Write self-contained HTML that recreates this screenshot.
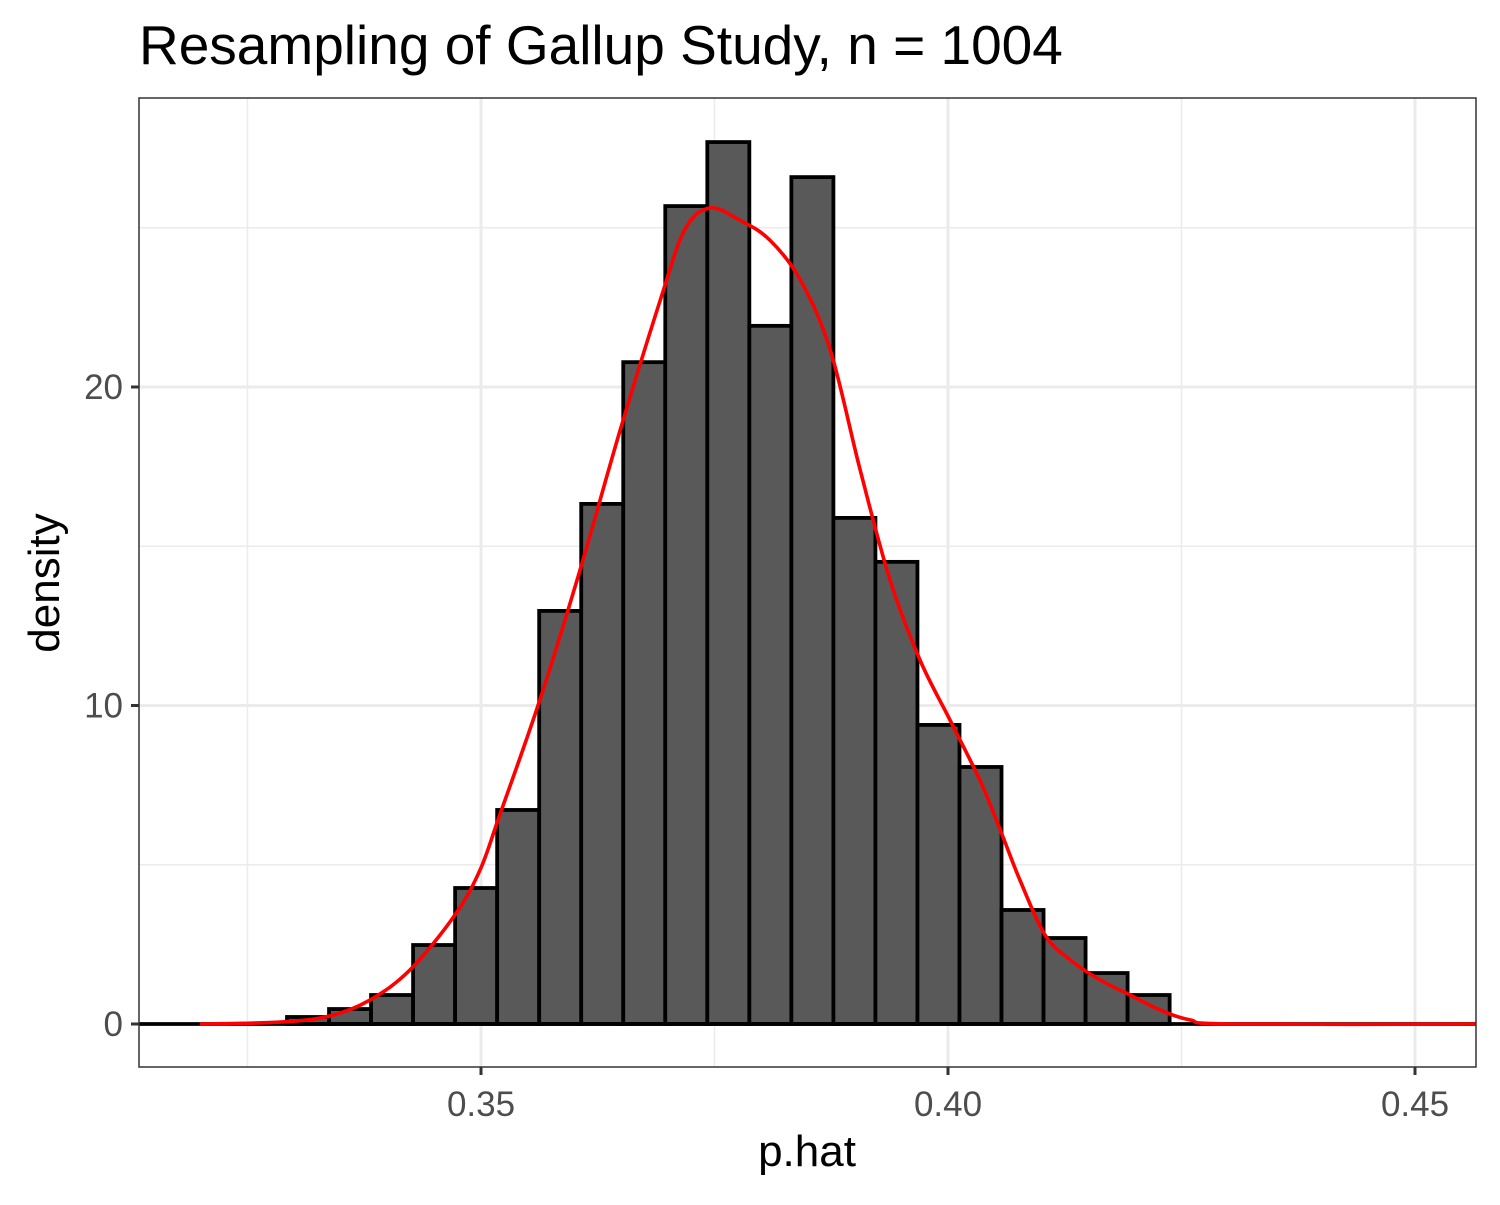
<!DOCTYPE html>
<html><head><meta charset="utf-8"><style>
body{margin:0;background:#fff}
svg text{font-family:"Liberation Sans",sans-serif}
</style></head><body>
<svg id="chart" width="1500" height="1200" xmlns="http://www.w3.org/2000/svg"></svg>
<script>
const binStart = 0.32923;
const binWidth = 0.0045;
const barHeights = [0.22,0.47,0.91,2.48,4.27,6.72,12.97,16.33,20.78,25.68,27.69,21.92,26.59,15.89,14.51,9.39,8.07,3.58,2.70,1.60,0.91];
const densX = [0.3199,0.3285,0.3338,0.3381,0.3424,0.3472,0.3499,0.3520,0.3563,0.3606,0.3649,0.3692,0.3718,0.3745,0.3777,0.3809,0.3842,0.3874,0.3906,0.3938,0.3970,0.4002,0.4034,0.4056,0.4077,0.4104,0.4131,0.4163,0.4195,0.4227,0.4259,0.4302,0.4565];
const densY = [0,0.06,0.25,0.75,1.70,3.42,4.84,6.56,10.17,14.25,18.65,22.73,24.93,25.62,25.24,24.62,23.36,21.16,17.39,13.93,11.43,9.55,7.66,6.09,4.52,2.79,2.01,1.38,0.91,0.44,0.13,0,0];
const xMajor = [0.35,0.40,0.45];
const xMajorLabels = ["0.35","0.40","0.45"];
const xMinor = [0.325,0.375,0.425];
const yMajor = [0,10,20];
const yMajorLabels = ["0","10","20"];
const yMinor = [5,15,25];

const L=139,R=1476,T=98,B=1067;
const sx = v => 481 + (v-0.35)*9340;
const sy = v => 1024 - v*31.85;
const svg=document.getElementById('chart');
const NS='http://www.w3.org/2000/svg';
function mk(tag,attrs,parent){const e=document.createElementNS(NS,tag);for(const k in attrs)e.setAttribute(k,attrs[k]);(parent||svg).appendChild(e);return e;}

mk('rect',{x:L,y:T,width:R-L,height:B-T,fill:'#fff'});
const grid=mk('g',{});


xMinor.forEach(v=>mk('line',{x1:sx(v),x2:sx(v),y1:T,y2:B,stroke:'#ebebeb','stroke-width':1.5},grid));
yMinor.forEach(v=>mk('line',{x1:L,x2:R,y1:sy(v),y2:sy(v),stroke:'#ebebeb','stroke-width':1.5},grid));
xMajor.forEach(v=>mk('line',{x1:sx(v),x2:sx(v),y1:T,y2:B,stroke:'#ebebeb','stroke-width':3},grid));
yMajor.forEach(v=>mk('line',{x1:L,x2:R,y1:sy(v),y2:sy(v),stroke:'#ebebeb','stroke-width':3},grid));

const bars=mk('g',{});


barHeights.forEach((h,i)=>{
  const x0=sx(binStart+i*binWidth), x1=sx(binStart+(i+1)*binWidth);
  const r=mk('rect',{x:x0,y:sy(h),width:x1-x0,height:sy(0)-sy(h),fill:'#595959',stroke:'#000','stroke-width':3.8},bars);
  
  
});

const hl=mk('line',{x1:L,x2:R,y1:sy(0),y2:sy(0),stroke:'#000','stroke-width':3.8});



const pts=densX.map((x,i)=>[sx(x),sy(densY[i])]);
let d='M'+pts[0][0].toFixed(1)+','+pts[0][1].toFixed(1);
for(let i=0;i<pts.length-1;i++){
  const p0=pts[Math.max(0,i-1)],p1=pts[i],p2=pts[i+1],p3=pts[Math.min(pts.length-1,i+2)];
  const c1=[p1[0]+(p2[0]-p0[0])/6,p1[1]+(p2[1]-p0[1])/6];
  const c2=[p2[0]-(p3[0]-p1[0])/6,p2[1]-(p3[1]-p1[1])/6];
  d+=' C'+c1[0].toFixed(1)+','+c1[1].toFixed(1)+' '+c2[0].toFixed(1)+','+c2[1].toFixed(1)+' '+p2[0].toFixed(1)+','+p2[1].toFixed(1);
}
const p=mk('path',{d:d,fill:'none',stroke:'#ff0000','stroke-width':3.6,'stroke-linejoin':'round'});



const frame=mk('rect',{x:L,y:T,width:R-L,height:B-T,fill:'none',stroke:'#333','stroke-width':1.5});



xMajor.forEach((v,i)=>{
  mk('line',{x1:sx(v),x2:sx(v),y1:B,y2:B+8,stroke:'#333','stroke-width':3});
  const t=mk('text',{x:sx(v),y:1116,'text-anchor':'middle','font-size':35,fill:'#4d4d4d'});
  t.textContent=xMajorLabels[i];
  
  
});
yMajor.forEach((v,i)=>{
  mk('line',{x1:L-8,x2:L,y1:sy(v),y2:sy(v),stroke:'#333','stroke-width':3});
  const t=mk('text',{x:L-16,y:sy(v)+12,'text-anchor':'end','font-size':35,fill:'#4d4d4d'});
  t.textContent=yMajorLabels[i];
  
  
});
const xt=mk('text',{x:807,y:1166,'text-anchor':'middle','font-size':44,fill:'#000'});
xt.textContent='p.hat';


const yt=mk('text',{x:0,y:0,'text-anchor':'middle','font-size':44,fill:'#000',transform:'translate(59,583) rotate(-90)'});
yt.textContent='density';


const tt=mk('text',{x:139,y:64,'font-size':55,fill:'#000'});
tt.textContent='Resampling of Gallup Study, n = 1004';


</script>
</body></html>
